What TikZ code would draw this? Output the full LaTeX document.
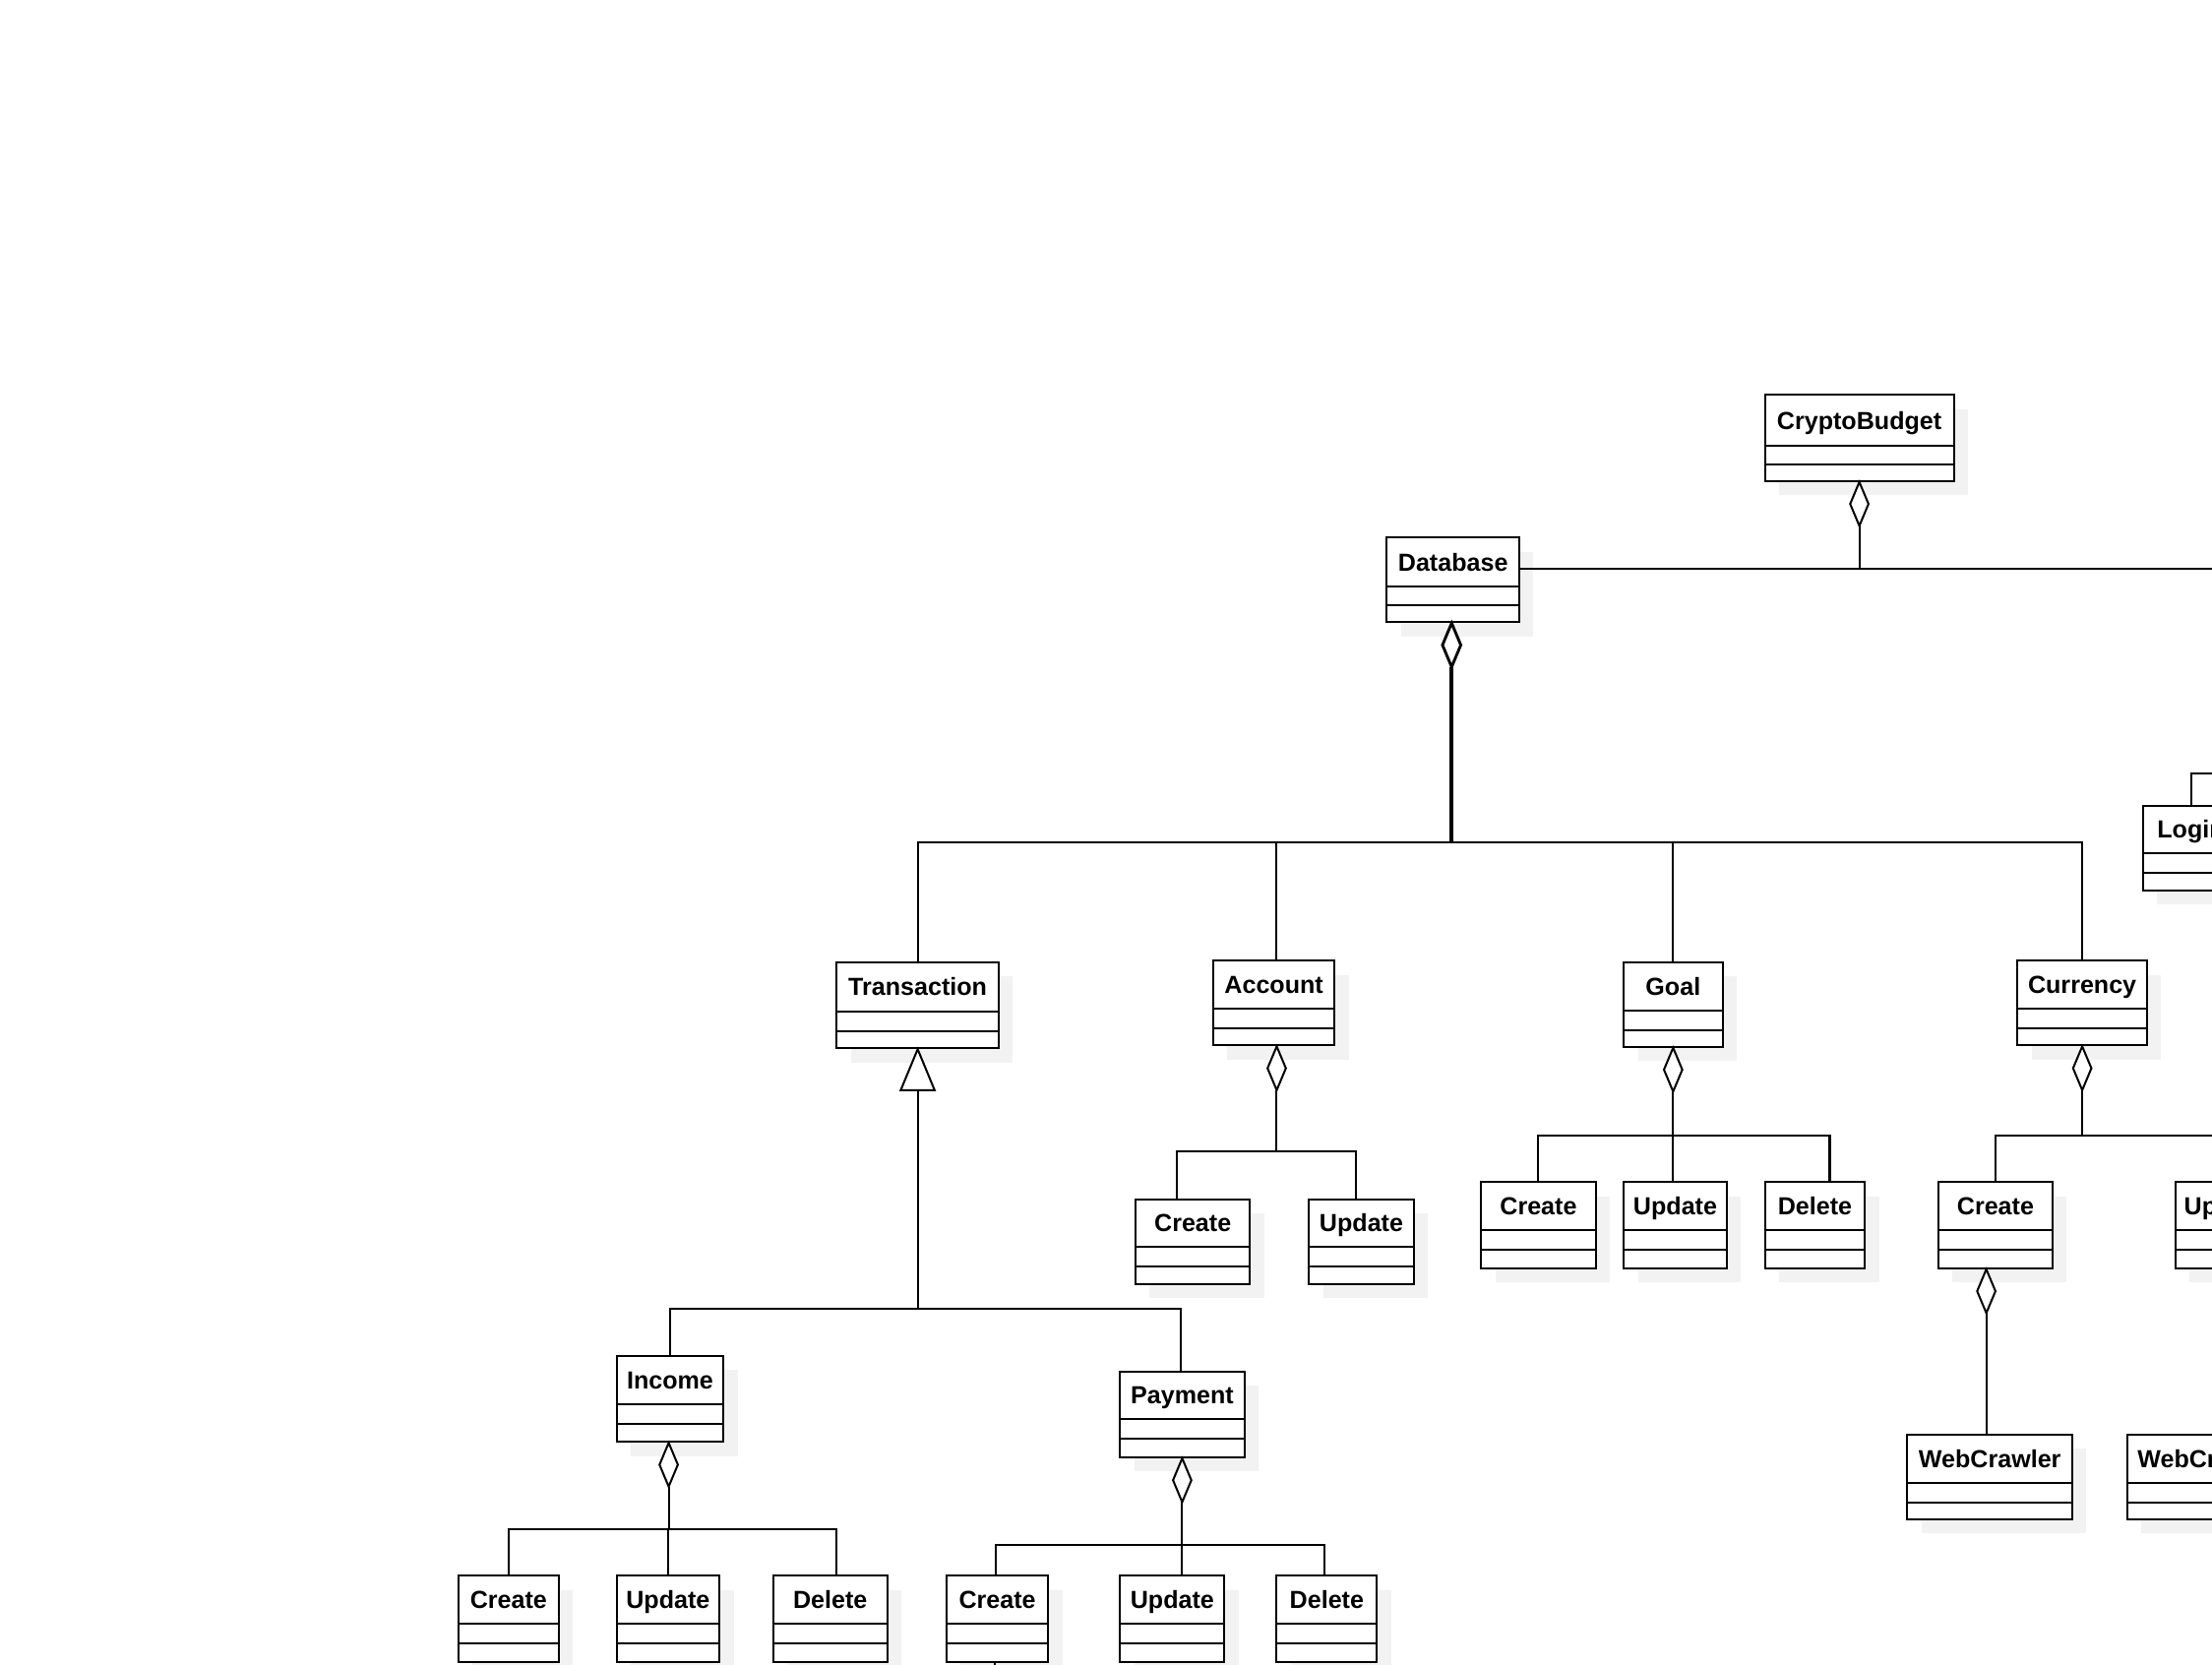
\documentclass[tikz,border=0pt]{standalone}
\usepackage{fontspec}
\setmainfont{Liberation Sans}
\usetikzlibrary{fit,calc}
\definecolor{shadowc}{HTML}{F2F2F2}
\tikzset{
  clsbox/.style={draw=black, line width=1.4pt, fill=white, inner sep=0pt},
  clsline/.style={draw=black, line width=1.4pt},
  clslabel/.style={font=\bfseries\fontsize{17.5}{20}\selectfont, inner sep=0pt, text height=12.5pt, text depth=0pt},
  conn/.style={draw=black, line width=1.4pt},
  thickconn/.style={draw=black, line width=2.6pt},
  hollow/.style={draw=black, fill=white, line width=1.4pt, line join=miter},
}
% name, label, x1, y1, x2, y2, d1, d2
\newcommand\umlcls[8]{%
  \fill[shadowc] ({#3+10},{#4+10}) rectangle ({#5+10},{#6+10});
  \node[clsbox, fit={(#3,#4)(#5,#6)}] (#1) {};
  \draw[clsline] (#3,#7) -- (#5,#7);
  \draw[clsline] (#3,#8) -- (#5,#8);
  \node[clslabel] at ({(#3+#5)/2},{(#4+#7)/2}) {#2};
}
% cut-off class: label anchored west
\newcommand\umlclscut[9]{%
  \fill[shadowc] ({#3+10},{#4+10}) rectangle ({#5+10},{#6+10});
  \node[clsbox, fit={(#3,#4)(#5,#6)}] (#1) {};
  \draw[clsline] (#3,#7) -- (#5,#7);
  \draw[clsline] (#3,#8) -- (#5,#8);
  \node[clslabel, anchor=west] at (#9,{(#4+#7)/2}) {#2};
}
\newcommand\aggdiamond[1]{%
  \draw[hollow] (#1) -- ++(6.5,15.5) -- ++(-6.5,15.5) -- ++(-6.5,-15.5) -- cycle;
}
\begin{document}
\begin{tikzpicture}[x=1pt,y=-1pt]
\useasboundingbox (0,0) rectangle (1568,1180);
\clip (0,0) rectangle (1568,1180);

% ---- classes ----
\umlcls{cb}{CryptoBudget}{1251}{280}{1385}{341}{316}{329}
\umlcls{db}{Database}{983}{381}{1077}{441}{416}{429}
\umlclscut{login}{Login}{1519}{571}{1680}{631}{605}{619}{1529}

\umlcls{tr}{Transaction}{593}{682}{708}{743}{717}{731}
\umlcls{acc}{Account}{860}{681}{946}{741}{715}{729}
\umlcls{goal}{Goal}{1151}{682}{1221}{742}{716}{730}
\umlcls{cur}{Currency}{1430}{681}{1522}{741}{715}{729}

\umlcls{acccr}{Create}{805}{850}{886}{910}{884}{898}
\umlcls{accup}{Update}{928}{850}{1002}{910}{884}{898}

\umlcls{goalcr}{Create}{1050}{838}{1131}{899}{872}{886}
\umlcls{goalup}{Update}{1151}{838}{1224}{899}{872}{886}
\umlcls{goaldel}{Delete}{1251}{838}{1322}{899}{872}{886}

\umlcls{curcr}{Create}{1374}{838}{1455}{899}{872}{886}
\umlclscut{curup}{Update}{1542}{838}{1640}{899}{872}{886}{1548}

\umlcls{wc}{WebCrawler}{1352}{1017}{1469}{1077}{1051}{1065}
\umlclscut{wc2}{WebCrawler}{1508}{1017}{1640}{1077}{1051}{1065}{1515}

\umlcls{inc}{Income}{437}{961}{513}{1022}{995}{1009}
\umlcls{pay}{Payment}{794}{972}{882}{1033}{1006}{1020}

\umlcls{inccr}{Create}{325}{1117}{396}{1178}{1151}{1165}
\umlcls{incup}{Update}{437}{1117}{510}{1178}{1151}{1165}
\umlcls{incdel}{Delete}{548}{1117}{629}{1178}{1151}{1165}

\umlcls{paycr}{Create}{671}{1117}{743}{1178}{1151}{1165}
\umlcls{payup}{Update}{794}{1117}{868}{1178}{1151}{1165}
\umlcls{paydel}{Delete}{905}{1117}{976}{1178}{1151}{1165}

% ---- junction coordinates ----
\coordinate (cbj) at (1318,403);
\coordinate (cbright) at (1600,403);
\coordinate (dbj) at (1029,597);
\coordinate (trj) at (650.5,928);
\coordinate (accj) at (905,816);
\coordinate (goalj) at (1186,805);
\coordinate (curj) at (1476,805);
\coordinate (curright) at (1600,805);
\coordinate (incj) at (474,1084);
\coordinate (payj) at (838,1095);
\coordinate (loginj) at (1600,548);

% ---- CryptoBudget aggregation ----
\draw[conn] ([yshift=-31pt]cb.south) -- (cbj);
\draw[conn] (cbj -| db.east) -- (cbj) -- (cbright);
\aggdiamond{cb.south}
\draw[conn] ([xshift=35pt]login.north west) |- (loginj);

% ---- Database composition bus ----
\draw[thickconn] ([xshift=-1pt,yshift=-31pt]db.south) -- (dbj);
\draw[conn] (tr.north) |- (dbj);
\draw[conn] ([xshift=2pt]acc.north) |- (dbj);
\draw[conn] (goal.north) |- (dbj);
\draw[conn] (cur.north) |- (dbj);
\draw[hollow, line width=2pt] ([xshift=-1pt]db.south) -- ++(6.5,15.5) -- ++(-6.5,15.5) -- ++(-6.5,-15.5) -- cycle;

% ---- Transaction generalisation ----
\draw[conn] ([yshift=-29pt]tr.south) -- (trj);
\draw[conn] (inc.north) |- (trj);
\draw[conn] ([xshift=-1pt]pay.north) |- (trj);
\draw[hollow] (tr.south) -- ++(12,29) -- ++(-24,0) -- cycle;

% ---- Account ----
\draw[conn] ([xshift=2pt,yshift=-31pt]acc.south) -- (accj);
\draw[conn] ([xshift=-11.5pt]acccr.north) |- (accj);
\draw[conn] ([xshift=-4pt]accup.north) |- (accj);
\aggdiamond{[xshift=2pt]acc.south}

% ---- Goal ----
\draw[conn] ([yshift=-31pt]goal.south) -- (goalj);
\draw[conn] (goalcr.north) |- (goalj);
\draw[conn] ([xshift=-1.5pt]goalup.north) |- (goalj);
\draw[conn] ([xshift=10.5pt]goaldel.north) |- (goalj);
\aggdiamond{goal.south}

% ---- Currency ----
\draw[conn] ([yshift=-31pt]cur.south) -- (curj);
\draw[conn] (curcr.north) |- (curj) -- (curright);
\aggdiamond{cur.south}

% ---- Currency/Create - WebCrawler ----
\draw[conn] ([xshift=-6.5pt,yshift=-31pt]curcr.south) -- ([xshift=-2.5pt]wc.north);
\aggdiamond{[xshift=-6.5pt]curcr.south}

% ---- Income ----
\draw[conn] ([xshift=-1pt,yshift=-31pt]inc.south) -- (incj);
\draw[conn] (inccr.north) |- (incj);
\draw[conn] (incup.north) |- (incj);
\draw[conn] ([xshift=4.5pt]incdel.north) |- (incj);
\aggdiamond{[xshift=-1pt]inc.south}

% ---- Payment ----
\draw[conn] ([yshift=-31pt]pay.south) -- (payj);
\draw[conn] ([xshift=-1pt]paycr.north) |- (payj);
\draw[conn] ([xshift=7pt]payup.north) |- (payj);
\draw[conn] ([xshift=-1.5pt]paydel.north) |- (payj);
\aggdiamond{pay.south}

% stub under Payment/Create
\coordinate (stubend) at (705,1190);
\draw[conn] ([xshift=-2pt]paycr.south) -- (stubend);
\end{tikzpicture}
\end{document}
